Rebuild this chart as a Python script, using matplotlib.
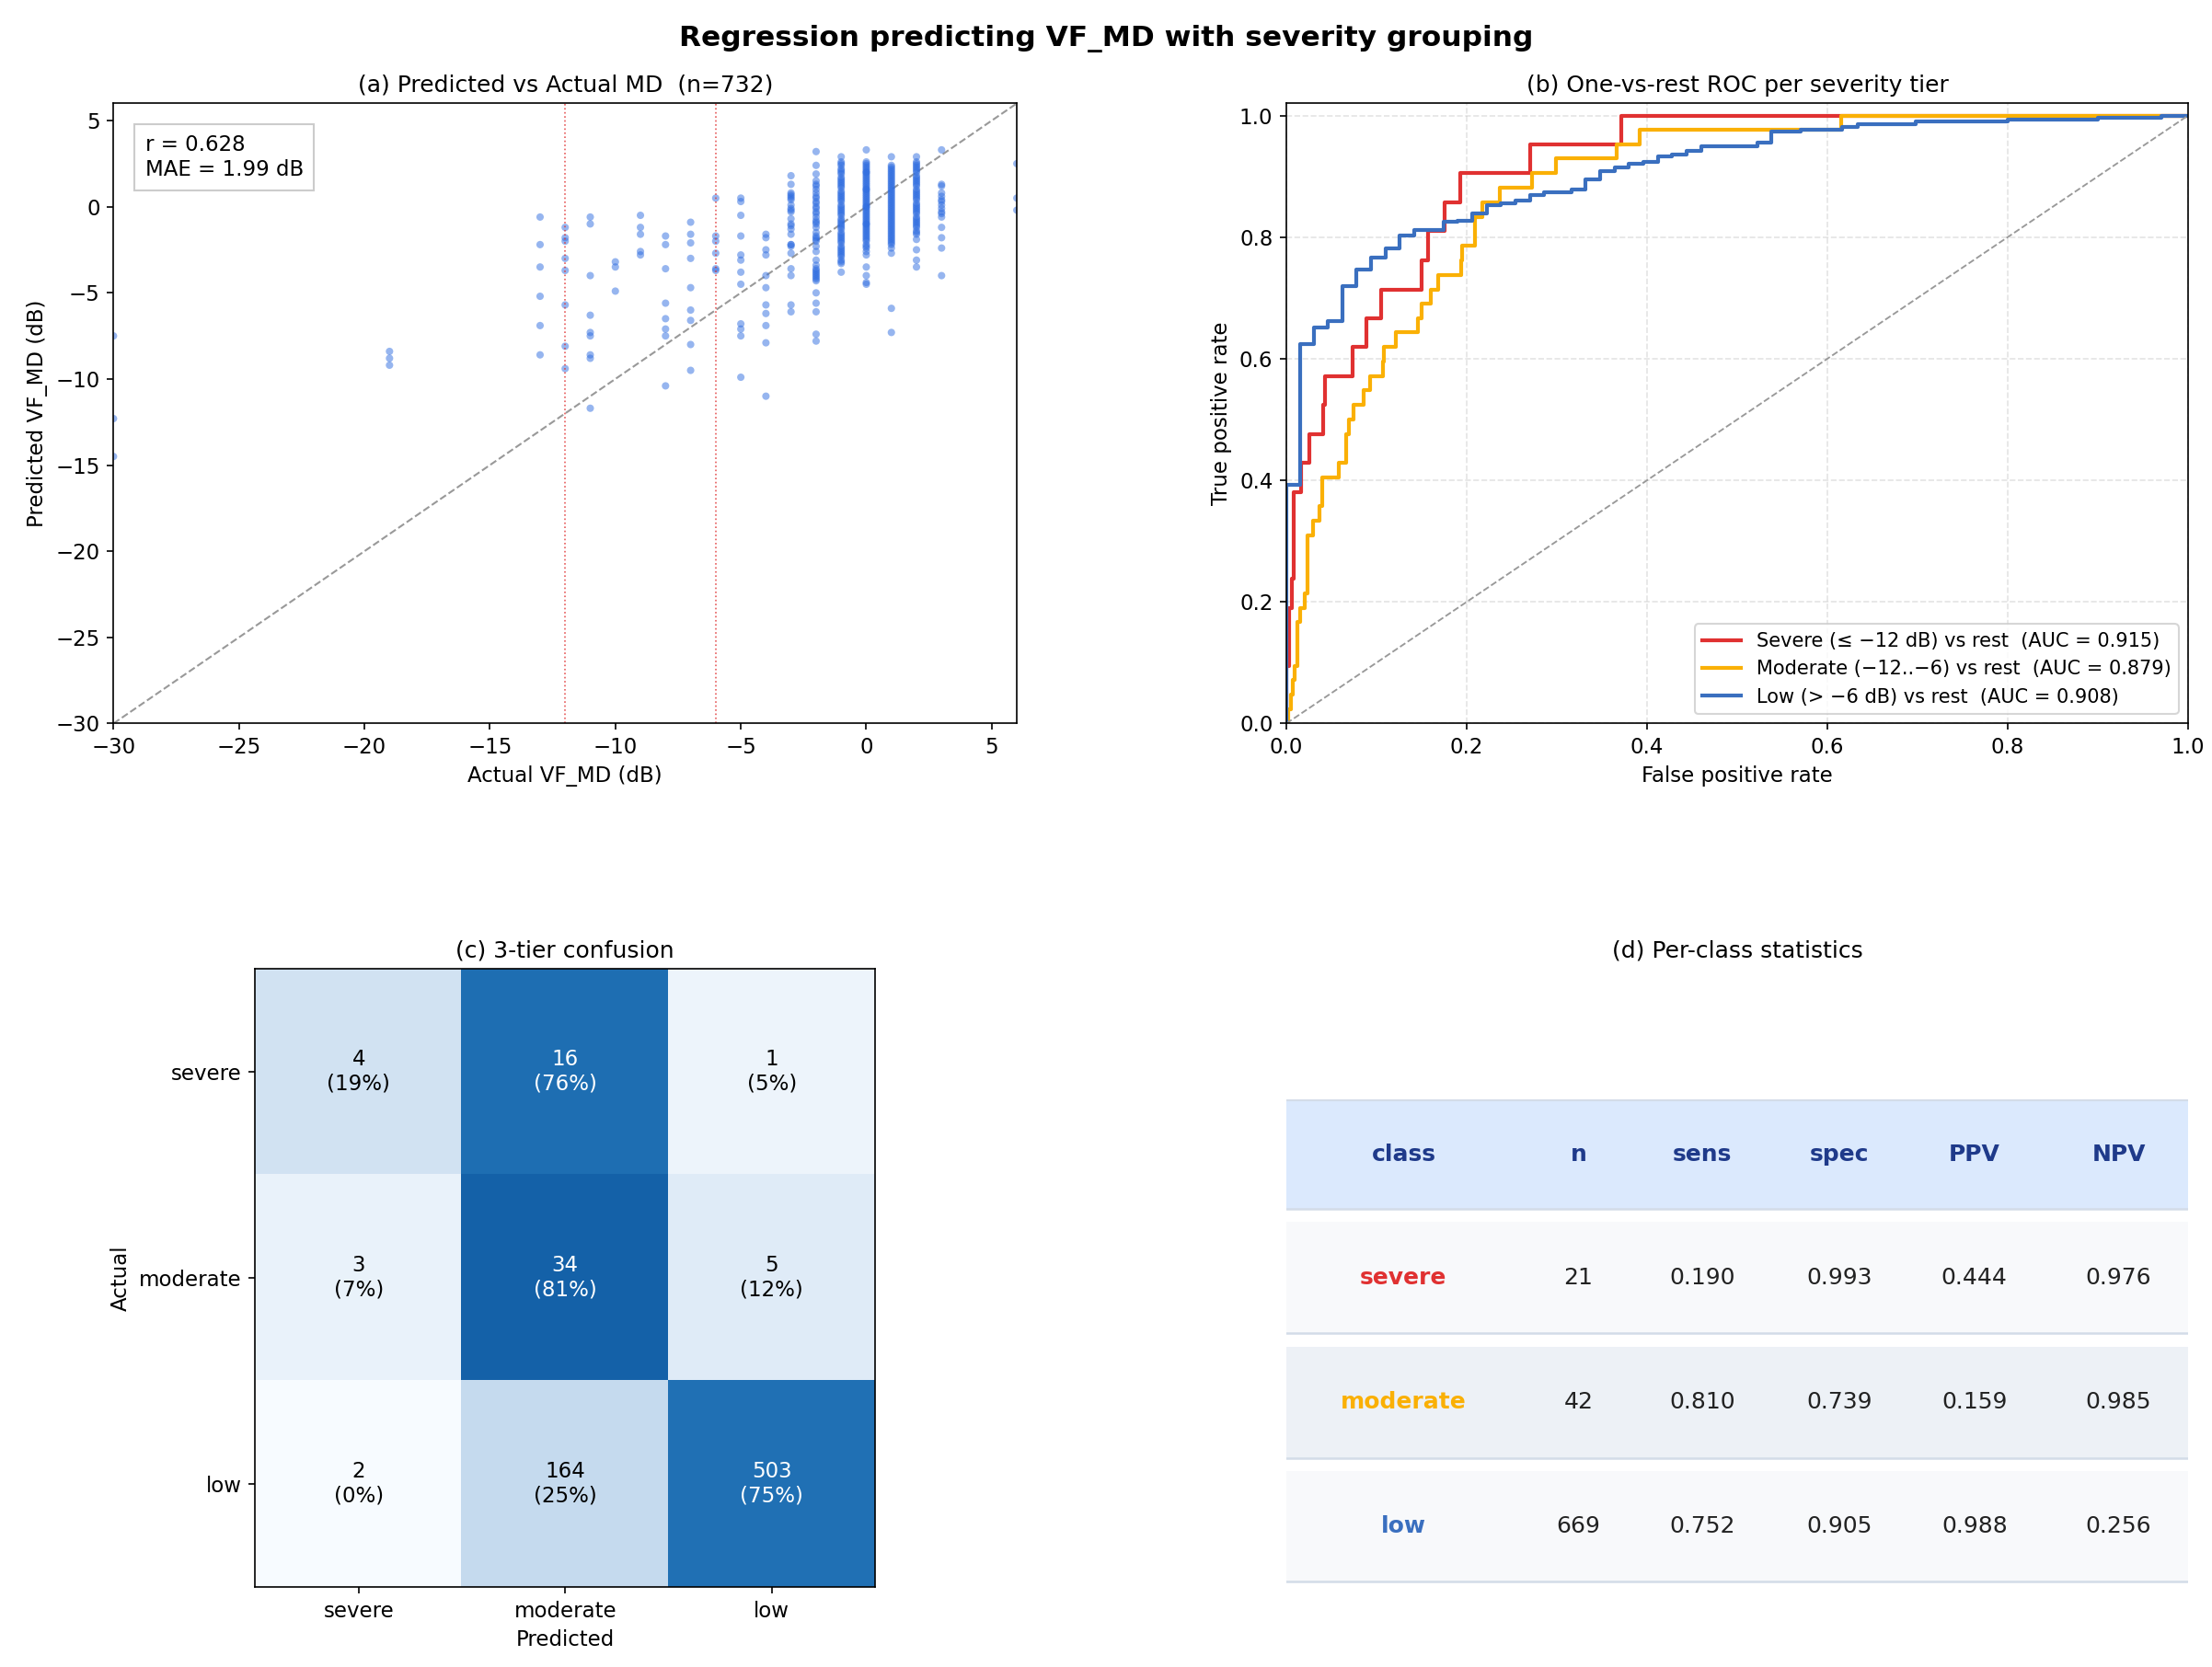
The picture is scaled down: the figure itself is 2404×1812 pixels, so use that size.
import matplotlib
matplotlib.use("Agg")
import matplotlib.pyplot as plt
import numpy as np
from matplotlib.patches import Rectangle

# ---------------- data ----------------
scatter_cols = [-30, 6, -19, -13, -12, -11, -10, -9, -8, -7, -6, -5, -4, -3, -2, -1, 0, 1, 2, 3]
scatter_preds = [
    [-7.5, -12.3, -14.5],
    [2.5, 0.5, -0.2],
    [-8.4, -8.8, -9.2],
    [-0.6, -2.2, -3.5, -5.2, -6.9, -8.6],
    [-1.2, -1.8, -2.0, -3.0, -3.7, -5.7, -8.1, -9.4],
    [-0.6, -1.0, -4.0, -6.3, -7.3, -7.5, -8.6, -8.8, -11.7],
    [-3.2, -3.5, -4.9],
    [-0.5, -1.2, -1.6, -2.6, -2.8],
    [-1.7, -2.2, -3.6, -5.6, -6.5, -7.1, -7.5, -10.4],
    [-0.9, -1.6, -2.1, -3.0, -4.7, -6.0, -6.6, -8.0, -9.5],
    [0.5, -1.7, -2.0, -2.7, -3.6, -3.7],
    [0.5, 0.3, -0.5, -1.7, -2.8, -3.1, -3.8, -4.5, -6.8, -7.1, -7.5, -9.9],
    [-1.6, -1.8, -2.5, -2.8, -4.0, -4.7, -5.7, -6.2, -6.9, -7.9, -11.0],
    [1.8, 1.3, 0.8, 0.6, 0.4, 0.1, -0.1, -0.3, -0.7, -1.0, -1.3, -1.6, -2.2, -2.3, -2.7, -3.6, -4.0, -5.7, -6.1,
     0.7, 0.5, -0.2, -1.1, -2.2],
    [3.2, 2.4, 1.9, 1.5, 1.2, 1.0, 0.8, 0.5, 0.2, -0.1, -0.4, -0.8, -1.0, -1.5, -1.7, -1.9, -2.3, -2.6, -3.1,
     -3.4, -3.6, -3.9, -4.1, -4.3, -5.0, -5.6, -6.1, -7.4, -7.8, 0.3, 0.0, -0.6, -1.2, -2.0, -3.7, -4.0,
     1.3, 0.6, -0.3, -0.9, -1.8, -3.8, -4.2],
    [2.9, 2.6, 2.4, 2.1, 1.9, 1.7, 1.5, 1.3, 1.1, 0.9, 0.7, 0.5, 0.3, 0.1, -0.1, -0.3, -0.5, -0.7, -0.9, -1.1,
     -1.3, -1.5, -1.7, -1.9, -2.1, -2.3, -2.5, -2.7, -2.9, -3.1, -3.3, -3.8,
     2.5, 2.0, 1.6, 1.2, 0.8, 0.4, 0.0, -0.4, -0.8, -1.2, -1.6, -2.0, -2.4, -2.8, -3.2,
     2.2, 1.4, 0.6, -0.2, -1.0, -1.8, -2.6],
    [3.3, 2.6, 2.4, 2.2, 2.0, 1.8, 1.6, 1.4, 1.2, 1.0, 0.8, 0.6, 0.4, 0.2, 0.0, -0.2, -0.4, -0.6, -0.8, -1.0,
     -1.2, -1.4, -1.6, -1.8, -2.0, -2.2, -2.4, -2.6, -2.8, -3.5, -4.0, -4.4, -4.5,
     2.5, 2.1, 1.7, 1.3, 0.9, 0.5, 0.1, -0.3, -0.7, -1.1, -1.5, -1.9, -2.3,
     2.3, 1.5, 0.7, -0.1, -0.9, -1.7, 1.9, 1.1, 0.3, -0.5, -1.3, 2.0, 1.0, 0.0, -1.0],
    [2.9, 2.4, 2.2, 2.0, 1.8, 1.6, 1.4, 1.2, 1.0, 0.8, 0.6, 0.4, 0.2, 0.0, -0.2, -0.4, -0.6, -0.8, -1.0, -1.2,
     -1.4, -1.6, -1.8, -2.0, -2.2, -2.4, -2.7, -5.9, -7.3,
     2.3, 1.9, 1.5, 1.1, 0.7, 0.3, -0.1, -0.5, -0.9, -1.3, -1.7, -2.1,
     2.1, 1.3, 0.5, -0.3, -1.1, -1.9, 1.7, 0.9, 0.1, -0.7, -1.5],
    [2.9, 2.6, 2.4, 2.2, 2.0, 1.8, 1.6, 1.4, 1.2, 1.0, 0.8, 0.6, 0.4, 0.2, 0.0, -0.2, -0.4, -0.6, -0.8, -1.0,
     -1.2, -1.4, -1.6, -1.9, -2.5, -3.1, -3.5,
     2.5, 2.1, 1.7, 1.3, 0.9, 0.5, 0.1, -0.3, -0.7, -1.1, -1.5, 2.3, 1.5, 0.7, -0.1, -0.9],
    [3.3, 1.3, 1.2, 0.8, 0.6, 0.4, 0.3, 0.1, -0.1, -0.3, -0.4, -0.6, -1.2, -1.8, -2.4, -4.0],
]

roc_sev_fpr = [0.0, 0.0, 0.003, 0.006, 0.008, 0.016, 0.026, 0.041, 0.043, 0.073, 0.089, 0.105, 0.150, 0.157, 0.176, 0.193, 0.270, 0.371, 1.0]
roc_sev_tpr = [0.0, 0.095, 0.190, 0.238, 0.381, 0.429, 0.476, 0.524, 0.571, 0.619, 0.667, 0.714, 0.762, 0.810, 0.857, 0.905, 0.952, 1.0, 1.0]

roc_mod_fpr = [0.0, 0.002, 0.005, 0.007, 0.009, 0.012, 0.015, 0.020, 0.024, 0.030, 0.037, 0.040, 0.058, 0.066, 0.069,
               0.075, 0.086, 0.093, 0.107, 0.108, 0.121, 0.146, 0.150, 0.160, 0.168, 0.194, 0.195, 0.209, 0.217,
               0.237, 0.272, 0.299, 0.366, 0.392, 0.615, 1.0]
roc_mod_tpr = [0.0, 0.024, 0.048, 0.071, 0.095, 0.167, 0.190, 0.214, 0.310, 0.333, 0.357, 0.405, 0.429, 0.476, 0.500,
               0.524, 0.548, 0.571, 0.595, 0.619, 0.643, 0.667, 0.690, 0.714, 0.738, 0.762, 0.786, 0.833, 0.857,
               0.881, 0.905, 0.929, 0.952, 0.976, 1.0, 1.0]

roc_low_fpr = [0.0, 0.0, 0.015, 0.031, 0.046, 0.062, 0.078, 0.094, 0.110, 0.126, 0.142, 0.174, 0.190, 0.206, 0.222,
               0.238, 0.254, 0.270, 0.286, 0.316, 0.332, 0.348, 0.364, 0.380, 0.396, 0.412, 0.428, 0.444, 0.460,
               0.476, 0.522, 0.538, 0.570, 0.616, 0.634, 0.698, 0.80, 0.90, 0.97, 1.0]
roc_low_tpr = [0.0, 0.393, 0.624, 0.651, 0.662, 0.720, 0.746, 0.767, 0.781, 0.802, 0.811, 0.825, 0.827, 0.839, 0.853,
               0.856, 0.860, 0.869, 0.874, 0.878, 0.895, 0.909, 0.914, 0.921, 0.924, 0.932, 0.936, 0.942, 0.949,
               0.950, 0.955, 0.973, 0.976, 0.981, 0.986, 0.990, 0.993, 0.997, 1.0, 1.0]

roc_labels = ["Severe (\u2264 \u221212 dB) vs rest  (AUC = 0.915)",
              "Moderate (\u221212..\u22126) vs rest  (AUC = 0.879)",
              "Low (> \u22126 dB) vs rest  (AUC = 0.908)"]
roc_colors = ["#e03131", "#fab005", "#3a6fbf"]

tiers = ["severe", "moderate", "low"]
conf_counts = [[4, 16, 1], [3, 34, 5], [2, 164, 503]]
conf_pct = [[19, 76, 5], [7, 81, 12], [0, 25, 75]]

stat_headers = ["class", "n", "sens", "spec", "PPV", "NPV"]
stat_n = ["21", "42", "669"]
stat_sens = ["0.190", "0.810", "0.752"]
stat_spec = ["0.993", "0.739", "0.905"]
stat_ppv = ["0.444", "0.159", "0.988"]
stat_npv = ["0.976", "0.985", "0.256"]

# ---------------- figure ----------------
fig = plt.figure(figsize=(16.03, 12.08), dpi=150)
fig.suptitle("Regression predicting VF_MD with severity grouping", fontsize=15, fontweight="bold", y=0.985)

# (a)
axA = fig.add_axes([0.0513, 0.566, 0.4083, 0.372])
xs, ys = [], []
for c, preds in zip(scatter_cols, scatter_preds):
    xs += [c] * len(preds)
    ys += preds
axA.scatter(xs, ys, s=15, color="#2f6de0", alpha=0.5, edgecolors="none", zorder=2)
axA.plot([-30, 6], [-30, 6], ls="--", color="#999999", lw=1, zorder=1)
axA.axvline(-12, color="#e03131", ls=":", lw=0.8, alpha=0.8)
axA.axvline(-6, color="#e03131", ls=":", lw=0.8, alpha=0.8)
axA.set_xlim(-30, 6)
axA.set_ylim(-30, 6)
axA.set_xlabel("Actual VF_MD (dB)", fontsize=11)
axA.set_ylabel("Predicted VF_MD (dB)", fontsize=11)
axA.set_title("(a) Predicted vs Actual MD  (n=732)", fontsize=12)
axA.text(0.035, 0.95, "r = 0.628\nMAE = 1.99 dB", transform=axA.transAxes, va="top", ha="left", fontsize=11,
         bbox=dict(boxstyle="square,pad=0.5", fc="white", ec="#cccccc"))
axA.tick_params(labelsize=11)

# (b)
axB = fig.add_axes([0.5814, 0.566, 0.4076, 0.372])
for f, t, lab, col in zip([roc_sev_fpr, roc_mod_fpr, roc_low_fpr], [roc_sev_tpr, roc_mod_tpr, roc_low_tpr],
                          roc_labels, roc_colors):
    axB.step(f, t, where="post", color=col, lw=2, label=lab)
axB.plot([0, 1], [0, 1], ls="--", color="#999999", lw=0.9)
axB.set_xlim(0, 1)
axB.set_ylim(0, 1.02)
axB.grid(True, ls="--", alpha=0.35)
axB.set_xlabel("False positive rate", fontsize=11)
axB.set_ylabel("True positive rate", fontsize=11)
axB.set_title("(b) One-vs-rest ROC per severity tier", fontsize=12)
axB.legend(loc="lower right", fontsize=10)
axB.tick_params(labelsize=11)

# (c)
axC = fig.add_axes([0.1154, 0.048, 0.2801, 0.371])
frac = np.array(conf_pct) / 100.0
axC.imshow(frac, cmap="Blues", vmin=0, vmax=1, aspect="auto")
for i in range(3):
    for j in range(3):
        axC.text(j, i, f"{conf_counts[i][j]}\n({conf_pct[i][j]}%)", ha="center", va="center", fontsize=11,
                 color="white" if frac[i, j] > 0.5 else "black")
axC.set_xticks(range(3))
axC.set_xticklabels(tiers)
axC.set_yticks(range(3))
axC.set_yticklabels(tiers)
axC.set_xlabel("Predicted", fontsize=11)
axC.set_ylabel("Actual", fontsize=11)
axC.set_title("(c) 3-tier confusion", fontsize=12)
axC.tick_params(labelsize=11)

# (d)
axD = fig.add_axes([0.5814, 0.048, 0.4076, 0.371])
axD.set_xlim(0, 1)
axD.set_ylim(0, 1)
axD.axis("off")
axD.set_title("(d) Per-class statistics", fontsize=12)
col_x = [0.130, 0.324, 0.461, 0.613, 0.763, 0.923]
bands = [(0.611, 0.787, "#dbe9fd"), (0.410, 0.590, "#f8f9fb"), (0.208, 0.389, "#edf1f6"), (0.009, 0.188, "#f8f9fb")]
for lo, hi, fc in bands:
    axD.add_patch(Rectangle((0, lo), 1, hi - lo, facecolor=fc, edgecolor="none"))
    axD.plot([0, 1], [lo, lo], color="#d3dce8", lw=1.2)
axD.plot([0, 1], [0.787, 0.787], color="#d3dce8", lw=1.0)
for x, h in zip(col_x, stat_headers):
    axD.text(x, 0.699, h, ha="center", va="center", fontsize=12, fontweight="bold", color="#1f3a8a")
rows_y = [0.500, 0.299, 0.098]
for r, (y, name, col) in enumerate(zip(rows_y, tiers, roc_colors)):
    axD.text(col_x[0], y, name, ha="center", va="center", fontsize=12, fontweight="bold", color=col)
    vals = [stat_n[r], stat_sens[r], stat_spec[r], stat_ppv[r], stat_npv[r]]
    for x, v in zip(col_x[1:], vals):
        axD.text(x, y, v, ha="center", va="center", fontsize=12, color="#222222")

fig.savefig("out.png", dpi=150)
